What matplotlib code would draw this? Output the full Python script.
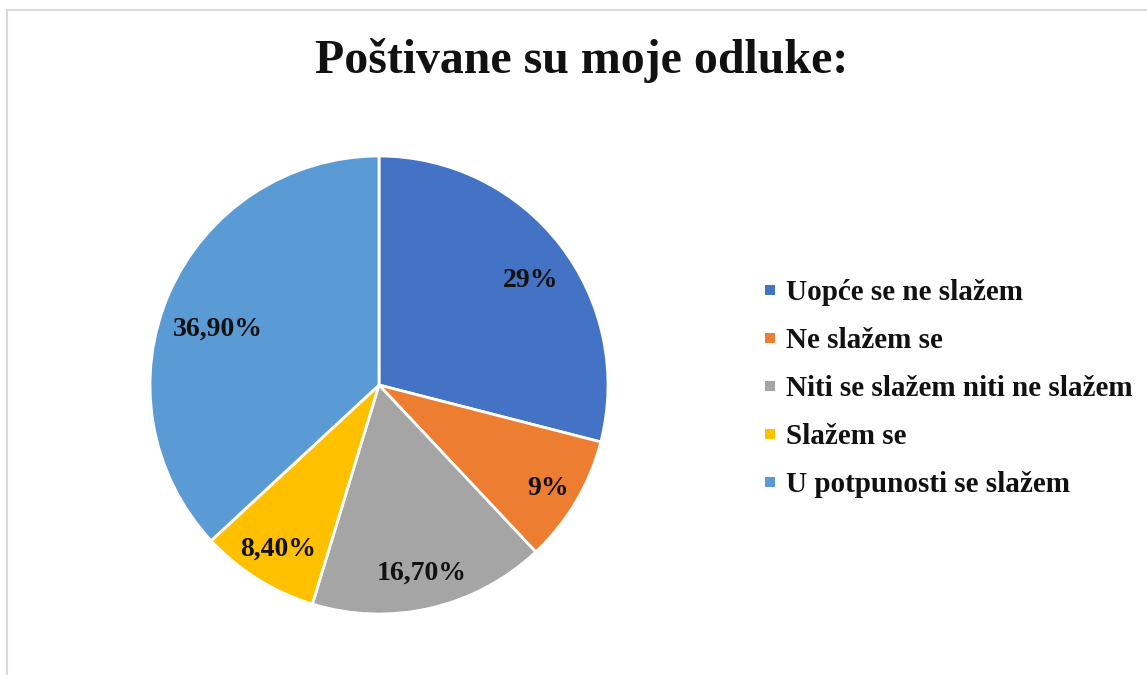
import numpy as np
import matplotlib
matplotlib.use("Agg")
import matplotlib.pyplot as plt
from matplotlib.patches import Rectangle
from matplotlib.lines import Line2D

title = "Poštivane su moje odluke:"
categories = ["Uopće se ne slažem", "Ne slažem se", "Niti se slažem niti ne slažem",
              "Slažem se", "U potpunosti se slažem"]
values = [29.0, 9.0, 16.7, 8.4, 36.9]
value_labels = ["29%", "9%", "16,70%", "8,40%", "36,90%"]
colors = ["#4472C4", "#ED7D31", "#A5A5A5", "#FFC000", "#5B9BD5"]
label_dist = [0.81, 0.86, 0.83, 0.83, 0.75]
label_turn = [-2.5, 0.0, 0.0, 0.0, 3.5]

plt.rcParams['font.family'] = ['Liberation Serif', 'DejaVu Serif']

W, H = 1147, 675
fig = plt.figure(figsize=(W / 100, H / 100), dpi=100)
fig.patch.set_facecolor("white")

# light frame
fig.add_artist(Rectangle((7 / W, -0.1), 1.2, 1 - 10 / H + 0.1, transform=fig.transFigure,
                         fill=False, edgecolor="#D9D9D9", linewidth=1.5))

cx, cy, r = 379, 385, 229
ax = fig.add_axes([(cx - r) / W, (H - cy - r) / H, 2 * r / W, 2 * r / H])
wedges, _ = ax.pie(values, colors=colors, startangle=90, counterclock=False,
                   radius=1.0, wedgeprops=dict(edgecolor="white", linewidth=2))
ax.set_xlim(-1, 1)
ax.set_ylim(-1, 1)
ax.set_aspect("equal")
ax.axis("off")

for w, lab, d, t in zip(wedges, value_labels, label_dist, label_turn):
    ang = np.deg2rad((w.theta1 + w.theta2) / 2 + t)
    ax.text(d * np.cos(ang), d * np.sin(ang), lab, ha="center", va="center_baseline",
            fontsize=20, fontweight="bold", color="#111111")

fig.text(582 / W, 1 - 73 / H, title, ha="center", va="baseline",
         fontsize=34.5, fontweight="bold", color="#111111")

handles = [Line2D([], [], linestyle="none", marker="s", markersize=7.0,
                  markerfacecolor=c, markeredgewidth=0) for c in colors]
leg = fig.legend(handles, categories, loc="upper left", bbox_to_anchor=(765 / W, 1 - 279 / H),
                 frameon=False, prop=dict(size=21, weight="bold"),
                 handlelength=0.343, handleheight=0.7, handletextpad=0.38,
                 labelspacing=0.72, borderaxespad=0, borderpad=0)
for t in leg.get_texts():
    t.set_color("#111111")

fig.savefig("out.png", dpi=100, facecolor="white")
